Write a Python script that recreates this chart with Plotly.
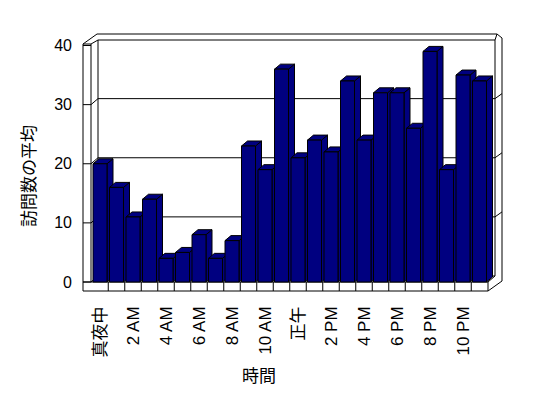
import plotly.graph_objects as go

# ---- data ----
hours = list(range(24))
avg_visits = [20, 16, 11, 14, 4, 5, 8, 4, 7, 23, 19, 36,
              21, 24, 22, 34, 24, 32, 32, 26, 39, 19, 35, 34]
tick_hours = [0, 2, 4, 6, 8, 10, 12, 14, 16, 18, 20, 22]
tick_labels = ["真夜中", "2 AM", "4 AM", "6 AM", "8 AM", "10 AM",
               "正午", "2 PM", "4 PM", "6 PM", "8 PM", "10 PM"]
y_ticks = [0, 10, 20, 30, 40]
y_title = "訪問数の平均"
x_title = "時間"

# ---- geometry helpers (pixel -> data) ----
X0PX, XSTEP = 100.0, 16.5
Y0PX, YSCALE = 282.0, 5.9125
W, H = 548, 398
L, R, T, B = 75, 510, 28, 296


def X(px):
    return (px - X0PX) / XSTEP


def Y(py):
    return (Y0PX - py) / YSCALE


def ypx(v):
    return Y0PX - v * YSCALE


def PX(px):
    return (px - L) / (R - L)


def PY(py):
    return (B - py) / (B - T)


BAR_W = 14.0 / XSTEP
BDX, BDY = 6.0 / XSTEP, 5.0 / YSCALE
NAVY = "#000080"
FONT = "Liberation Sans, Arial, Noto Sans CJK JP, sans-serif"

shapes = []


def seg(x1, y1, x2, y2, layer="below"):
    shapes.append(dict(type="line", xref="x", yref="y", x0=X(x1), y0=Y(y1),
                       x1=X(x2), y1=Y(y2), line=dict(color="black", width=1),
                       layer=layer))


def poly(pts, fill, layer="between"):
    path = "M " + " L ".join(f"{px},{py}" for px, py in pts) + " Z"
    shapes.append(dict(type="path", xref="x", yref="y", path=path,
                       fillcolor=fill, line=dict(color="black", width=1),
                       layer=layer))


# outer frame outline
outline = [(83, 44), (97, 34), (497, 34), (502, 38), (502, 281), (488, 291), (83, 291)]
poly([(X(a), Y(b)) for a, b in outline], "white", layer="below")
# back wall
poly([(X(98), Y(40)), (X(495), Y(40)), (X(495), Y(276)), (X(98), Y(276))], "white", layer="below")
# left wall inner edges
seg(83, 44, 91, 44)
seg(91, 44, 98, 40)
seg(91, 44, 91, 282)
seg(91, 282, 98, 276)
seg(495, 40, 497, 34)
# floor front
seg(83, 282, 488, 282)
seg(488, 282, 495, 276)
seg(488, 282, 488, 291)
for k in range(23):
    xb = X0PX + XSTEP * (k + 0.5)
    seg(xb, 282, xb, 291)
# gridlines on walls
for v in y_ticks:
    yv = ypx(v)
    seg(83, yv, 91, yv)
    if 0 < v < 40:
        seg(91, yv, 98, yv - 6)
        seg(98, yv - 6, 495, yv - 6)
        seg(495, yv - 6, 502, yv - 11)

# 3D side & top faces of bars
for h, v in zip(hours, avg_visits):
    xl, xr = h - BAR_W / 2, h + BAR_W / 2
    poly([(xr, v), (xr + BDX, v + BDY), (xr + BDX, BDY), (xr, 0)], NAVY)
    poly([(xl, v), (xl + BDX, v + BDY), (xr + BDX, v + BDY), (xr, v)], NAVY)

fig = go.Figure(go.Bar(
    x=hours, y=avg_visits, width=BAR_W,
    marker=dict(color=NAVY, line=dict(color="black", width=1)),
    hoverinfo="x+y",
))

fig.update_layout(
    width=W, height=H, autosize=False,
    margin=dict(l=L, r=W - R, t=T, b=H - B, pad=0),
    paper_bgcolor="white", plot_bgcolor="white",
    showlegend=False, shapes=shapes,
    font=dict(family=FONT, size=16, color="black"),
    xaxis=dict(range=[X(L), X(R)], tickmode="array", tickvals=tick_hours,
               ticktext=tick_labels, tickangle=-90, showgrid=False,
               zeroline=False, showline=False, ticks="", ticklabelstandoff=6,
               automargin=False, tickfont=dict(family=FONT, size=17)),
    yaxis=dict(range=[Y(B), Y(T)], tickmode="array", tickvals=y_ticks,
               showgrid=False, zeroline=False, showline=False, ticks="",
               automargin=False, ticklabelstandoff=2,
               tickfont=dict(family=FONT, size=16)),
    annotations=[
        dict(text=y_title, x=PX(29), y=PY(176), xref="paper", yref="paper",
             xanchor="center", yanchor="middle",
             textangle=-90, showarrow=False, font=dict(family=FONT, size=17)),
        dict(text=x_title, x=PX(259), y=PY(376), xref="paper", yref="paper",
             xanchor="center", yanchor="middle",
             showarrow=False, font=dict(family=FONT, size=17)),
    ],
)

fig.write_html("out.html", config={"displayModeBar": False},
               post_script="document.body.style.margin='0';document.body.style.padding='0';")
